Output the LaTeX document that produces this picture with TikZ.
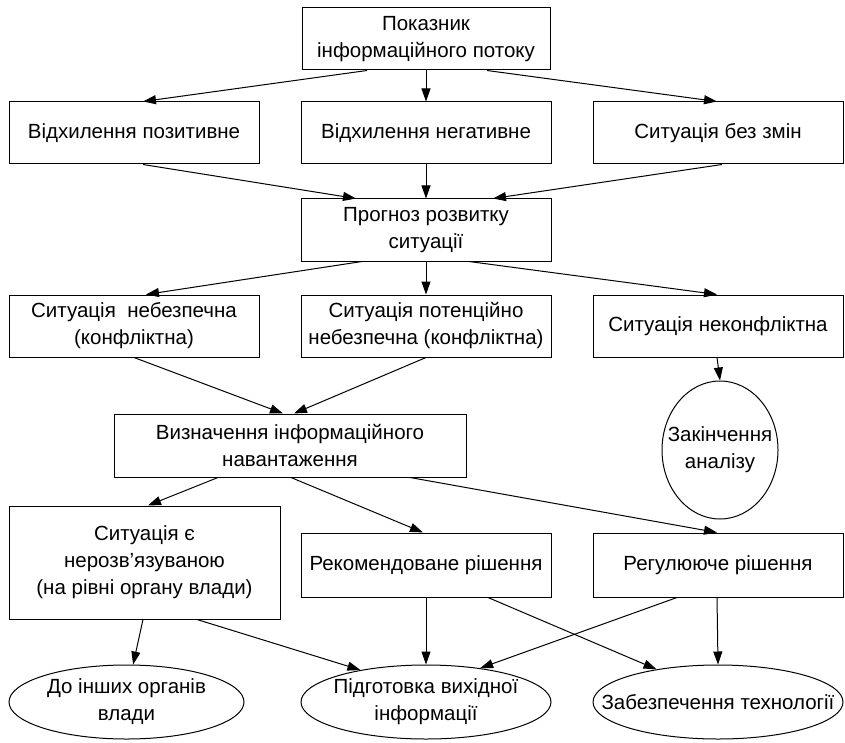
\documentclass[tikz,border=0pt]{standalone}
\usepackage{fontspec}
\setmainfont{Liberation Sans}
\usetikzlibrary{shapes.geometric,arrows.meta}
\begin{document}
\begin{tikzpicture}[x=1pt,y=-1pt,
  font=\fontsize{20.5}{27}\selectfont,
  box/.style={draw,line width=1pt,rectangle,align=center,inner sep=2pt,
    minimum width=250pt,minimum height=62pt},
  oval/.style={draw,line width=1pt,ellipse,inner sep=0pt},
  link/.style={line width=1pt,-{Triangle[length=13pt,width=9pt]}}]
\useasboundingbox (0,0) rectangle (845,743);

% first level
\node[box,minimum width=248pt] (top) at (426,39) {Показник\\інформаційного потоку};

% deviations
\node[box] (pos) at (134,133) {Відхилення позитивне};
\node[box] (neg) at (426,133) {Відхилення негативне};
\node[box] (same) at (718,133) {Ситуація без змін};

% forecast
\node[box] (prog) at (426,230) {Прогноз розвитку\\ситуації};

% kinds of situation
\node[box] (danger) at (134,326) {Ситуація~ небезпечна\\(конфліктна)};
\node[box] (potent) at (426,326) {Ситуація потенційно\\небезпечна (конфліктна)};
\node[box] (calm) at (718,326) {Ситуація неконфліктна};

\node[oval,minimum width=116pt,minimum height=138pt,
  label={[align=center]center:Закінчення\\аналізу}] (end) at (720,450) {};

% load
\node[box,minimum width=352pt,minimum height=63pt] (load) at (290,445.5)
  {Визначення інформаційного\\навантаження};

% decisions
\node[box,minimum width=271pt,minimum height=113pt] (unsolved) at (144.5,562.5)
  {Ситуація є\\нерозв’язуваною\\(на рівні органу влади)};
\node[box,minimum height=64pt] (recom) at (426,565) {Рекомендоване рішення};
\node[box,minimum height=64pt] (regul) at (718,565) {Регулююче рішення};

% results
\node[oval,minimum width=235pt,minimum height=74pt,
  label={[align=center]center:До інших органів\\влади}] (other) at (126.5,702) {};
\node[oval,minimum width=250pt,minimum height=74pt,
  label={[align=center]center:Підготовка вихідної\\інформації}] (output) at (426,702) {};
\node[oval,minimum width=250pt,minimum height=74pt,
  label={[align=center]center:Забезпечення технології}] (tech) at (718,702) {};

% connectors
\draw[link] ([xshift=-59pt]top.south) -- ([xshift=9pt]pos.north);
\draw[link] (top.south) -- (neg.north);
\draw[link] ([xshift=61pt]top.south) -- ([xshift=-1pt]same.north);

\draw[link] ([xshift=9pt]pos.south) -- ([xshift=-70pt]prog.north);
\draw[link] (neg.south) -- (prog.north);
\draw[link] ([xshift=4pt]same.south) -- ([xshift=67pt]prog.north);

\draw[link] ([xshift=-64pt]prog.south) -- ([xshift=12pt]danger.north);
\draw[link] (prog.south) -- (potent.north);
\draw[link] ([xshift=43pt]prog.south) -- ([xshift=-1pt]calm.north);

\draw[link] (danger.south) -- ([xshift=-7pt]load.north);
\draw[link] (potent.south) -- ([xshift=4pt]load.north);
\draw[link] ([xshift=-1pt]calm.south) -- (end.north);

\draw[link] ([xshift=-72pt]load.south) -- ([xshift=3.5pt]unsolved.north);
\draw[link] ([xshift=1pt]load.south) -- ([xshift=-3pt]recom.north);
\draw[link] ([xshift=120pt]load.south) -- ([xshift=-1pt]regul.north);

\draw[link] ([xshift=-1.5pt]unsolved.south) -- (other.80);
\draw[link] ([xshift=52.5pt]unsolved.south) -- (output.154);
\draw[link] (recom.south) -- (output.north);
\draw[link] ([xshift=62pt]recom.south) -- (tech.152);
\draw[link] ([xshift=-41pt]regul.south) -- (output.32);
\draw[link] ([xshift=-1pt]regul.south) -- (tech.north);
\end{tikzpicture}
\end{document}
